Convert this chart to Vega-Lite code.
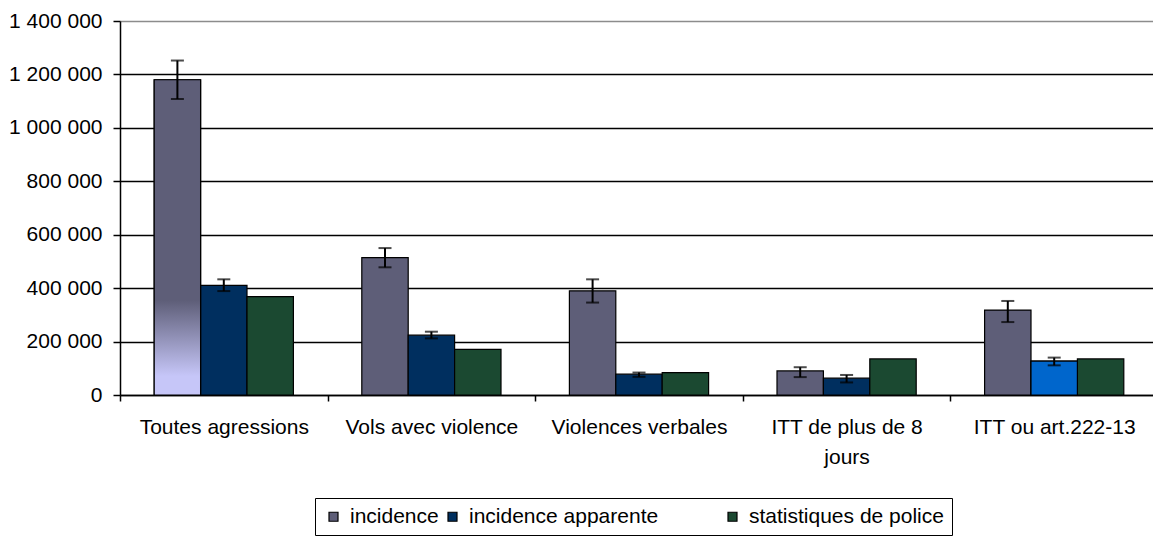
{
  "$schema": "https://vega.github.io/schema/vega-lite/v6.json",
  "autosize": "none",
  "padding": {"left": 120, "top": 21, "right": 0, "bottom": 141},
  "width": 1038,
  "height": 374,
  "background": "white",
  "config": {
    "view": {"stroke": null},
    "font": "Liberation Sans",
    "locale": {"number": {"decimal": ",", "thousands": " ", "grouping": [3], "currency": ["", " €"]}},
    "axis": {"labelFont": "Liberation Sans", "labelFontSize": 21, "labelColor": "black", "domainColor": "black", "tickColor": "black", "title": null}
  },
  "data": {
    "values": [
      {"cat": "Toutes agressions", "serie": "incidence", "val": 1180000, "lo": 1108000, "hi": 1252000},
      {"cat": "Toutes agressions", "serie": "incidence apparente", "val": 410000, "lo": 389000, "hi": 433000},
      {"cat": "Toutes agressions", "serie": "statistiques de police", "val": 368000},
      {"cat": "Vols avec violence", "serie": "incidence", "val": 514000, "lo": 478000, "hi": 550000},
      {"cat": "Vols avec violence", "serie": "incidence apparente", "val": 224000, "lo": 212000, "hi": 237000},
      {"cat": "Vols avec violence", "serie": "statistiques de police", "val": 171000},
      {"cat": "Violences verbales", "serie": "incidence", "val": 390000, "lo": 346000, "hi": 433000},
      {"cat": "Violences verbales", "serie": "incidence apparente", "val": 78000, "lo": 68000, "hi": 84000},
      {"cat": "Violences verbales", "serie": "statistiques de police", "val": 84000},
      {"cat": "ITT de plus de 8 jours", "serie": "incidence", "val": 90000, "lo": 67000, "hi": 104000},
      {"cat": "ITT de plus de 8 jours", "serie": "incidence apparente", "val": 63000, "lo": 47000, "hi": 75000},
      {"cat": "ITT de plus de 8 jours", "serie": "statistiques de police", "val": 135000},
      {"cat": "ITT ou art.222-13", "serie": "incidence", "val": 318000, "lo": 273000, "hi": 352000},
      {"cat": "ITT ou art.222-13", "serie": "incidence apparente", "val": 127000, "lo": 111000, "hi": 140000},
      {"cat": "ITT ou art.222-13", "serie": "statistiques de police", "val": 135000}
    ]
  },
  "encoding": {
    "x": {
      "field": "cat", "type": "nominal", "sort": null,
      "scale": {"paddingInner": 0, "paddingOuter": 0},
      "axis": {
        "labelAngle": 0, "tickBand": "extent", "tickSize": 6, "tickWidth": 1.5, "domainWidth": 1.5,
        "labelPadding": 15, "labelLineHeight": 30, "labelLimit": 300,
        "labelExpr": "datum.label == 'ITT de plus de 8 jours' ? ['ITT de plus de 8', 'jours'] : datum.label"
      }
    },
    "xOffset": {
      "field": "serie", "type": "nominal",
      "scale": {"domain": ["incidence", "incidence apparente", "statistiques de police"], "paddingInner": 0, "paddingOuter": 0.737}
    }
  },
  "layer": [
    {
      "mark": {"type": "bar", "stroke": "black", "strokeWidth": 1.2},
      "encoding": {
        "y": {
          "field": "val", "type": "quantitative",
          "scale": {"domain": [0, 1400000], "nice": false},
          "axis": {
            "values": [0, 200000, 400000, 600000, 800000, 1000000, 1200000, 1400000],
            "format": ",d", "tickSize": 7, "tickWidth": 1.5, "domainWidth": 1.5, "labelPadding": 11,
            "grid": true, "gridWidth": 1.5,
            "gridColor": {"condition": {"test": "datum.value >= 1400000", "value": "#8c8c8c"}, "value": "black"}
          }
        },
        "color": {
          "field": "serie", "type": "nominal",
          "scale": {"domain": ["incidence", "incidence apparente", "statistiques de police"], "range": ["#5e5e78", "#002f5f", "#1b4931"]},
          "legend": {
            "title": null, "orient": "none", "legendX": 195, "legendY": 477, "direction": "horizontal",
            "symbolType": "square", "symbolSize": 81, "symbolStrokeColor": "black", "symbolStrokeWidth": 1.2,
            "labelFont": "Liberation Sans", "labelFontSize": 21, "labelColor": "black", "labelOffset": 6, "labelLimit": 400,
            "columnPadding": 3, "padding": 8, "strokeColor": "black", "fillColor": "white",
            "labelExpr": "datum.label == 'incidence apparente' ? 'incidence apparente\u2800\u2800\u2800\u2800' : datum.label"
          }
        }
      }
    },
    {
      "transform": [{"filter": "datum.cat == 'ITT ou art.222-13' && datum.serie == 'incidence apparente'"}],
      "mark": {"type": "bar", "stroke": "black", "strokeWidth": 1.2, "color": "#0066cc"},
      "encoding": {"y": {"field": "val", "type": "quantitative"}}
    },
    {
      "transform": [{"filter": "datum.cat == 'Toutes agressions' && datum.serie == 'incidence'"}],
      "mark": {
        "type": "bar", "stroke": "black", "strokeWidth": 1.2,
        "fill": {
          "gradient": "linear", "x1": 0, "y1": 0, "x2": 0, "y2": 1,
          "stops": [
            {"offset": 0, "color": "#5e5e78"},
            {"offset": 0.7, "color": "#5e5e78"},
            {"offset": 0.94, "color": "#c6c6f8"},
            {"offset": 1, "color": "#c6c6f8"}
          ]
        }
      },
      "encoding": {"y": {"field": "val", "type": "quantitative"}}
    },
    {
      "transform": [{"filter": "isValid(datum.lo)"}],
      "mark": {"type": "rule", "color": "black", "strokeWidth": 2},
      "encoding": {"y": {"field": "lo", "type": "quantitative"}, "y2": {"field": "hi"}}
    },
    {
      "transform": [{"filter": "isValid(datum.lo)"}],
      "mark": {"type": "tick", "color": "black", "size": 13, "thickness": 2},
      "encoding": {"y": {"field": "lo", "type": "quantitative"}}
    },
    {
      "transform": [{"filter": "isValid(datum.hi)"}],
      "mark": {"type": "tick", "color": "black", "size": 13, "thickness": 2},
      "encoding": {"y": {"field": "hi", "type": "quantitative"}}
    }
  ]
}
